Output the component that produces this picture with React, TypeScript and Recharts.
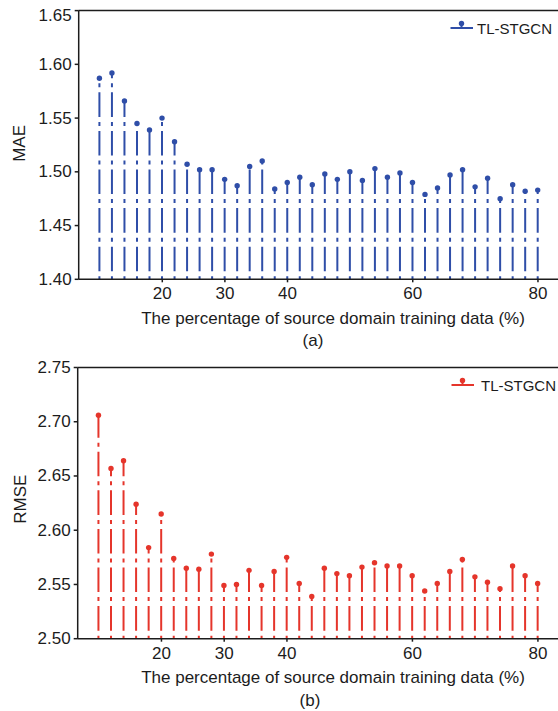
import React from "react";
import { ComposedChart, Bar, XAxis, YAxis, ReferenceLine } from "recharts";

const percents = [10, 12, 14, 16, 18, 20, 22, 24, 26, 28, 30, 32, 34, 36, 38, 40, 42, 44, 46, 48, 50, 52, 54, 56, 58, 60, 62, 64, 66, 68, 70, 72, 74, 76, 78, 80];

const mae = [1.587, 1.592, 1.566, 1.545, 1.539, 1.55, 1.528, 1.507, 1.502, 1.502, 1.493, 1.487, 1.505, 1.51, 1.484, 1.49, 1.495, 1.488, 1.498, 1.493, 1.5, 1.492, 1.503, 1.495, 1.499, 1.49, 1.479, 1.485, 1.497, 1.502, 1.486, 1.494, 1.475, 1.488, 1.482, 1.483];

const rmse = [2.706, 2.657, 2.664, 2.624, 2.584, 2.615, 2.574, 2.565, 2.564, 2.578, 2.549, 2.55, 2.563, 2.549, 2.562, 2.575, 2.551, 2.539, 2.565, 2.56, 2.558, 2.566, 2.57, 2.567, 2.567, 2.558, 2.544, 2.551, 2.562, 2.573, 2.557, 2.552, 2.546, 2.567, 2.558, 2.551];

const xTicks = [20, 30, 40, 60, 80];
const maeTicks = [1.4, 1.45, 1.5, 1.55, 1.6, 1.65];
const rmseTicks = [2.5, 2.55, 2.6, 2.65, 2.7, 2.75];

const seriesName = "TL-STGCN";
const xTitle = "The percentage of source domain training data (%)";

const FONT = "'Liberation Sans', Arial, sans-serif";
const INK = "#1c1c1c";
const BLUE = "#2f4ea8";
const RED = "#e5352b";

// stem from baseline up to the value, dash-dot pattern starts at the baseline
const makeStem = (color: string) => (props: any) => {
  const { x, y, width, height } = props;
  const cx = x + width / 2;
  const base = y + height;
  return (
    <g>
      <line x1={cx} y1={base} x2={cx} y2={y} stroke={color} strokeWidth={2}
        strokeDasharray="4 5 24.6 5" strokeDashoffset={1} />
      <circle cx={cx} cy={y} r={2.7} fill={color} />
    </g>
  );
};

// legend key: short stem on a baseline, then the series name
function StemLegend({ color, left, top, textX }: { color: string; left: number; top: number; textX: number }) {
  return (
    <svg width={110} height={26} style={{ position: "absolute", left, top, overflow: "visible" }}>
      <line x1={2.5} y1={14} x2={25} y2={14} stroke={color} strokeWidth={2} />
      <line x1={13.5} y1={14} x2={13.5} y2={9.5} stroke={color} strokeWidth={2} />
      <circle cx={13.5} cy={9.5} r={2.7} fill={color} />
      <text x={textX} y={14} dominantBaseline="central" fontFamily={FONT} fontSize={15} fill={INK}>
        {seriesName}
      </text>
    </svg>
  );
}

// y tick label; the top one in (a) sits a little lower than its tick
const makeYTick = (topValue: number, topShift: number) => (props: any) => {
  const { x, y, payload } = props;
  const v = payload.value as number;
  const dy = Math.abs(v - topValue) < 1e-9 ? topShift : 0;
  return (
    <text x={x} y={y + dy} textAnchor="end" dominantBaseline="central" fontFamily={FONT} fontSize={17} fill={INK}>
      {v.toFixed(2)}
    </text>
  );
};

const makeYLabel = (text: string, cx: number, dy: number) => (props: any) => {
  const vb = props.viewBox || {};
  const cy = (vb.y ?? 0) + (vb.height ?? 0) / 2 + dy;
  return (
    <text x={cx} y={cy} transform={`rotate(-90, ${cx}, ${cy})`} textAnchor="middle"
      dominantBaseline="central" fontFamily={FONT} fontSize={17} fill={INK}>
      {text}
    </text>
  );
};

const makeXLabel = (tag: string, tagX: number) => (props: any) => {
  const vb = props.viewBox || {};
  const top = vb.y ?? 0;
  return (
    <g fontFamily={FONT} fontSize={17} fill={INK}>
      <text x={333} y={top + 39} textAnchor="middle" dominantBaseline="central">{xTitle}</text>
      <text x={tagX} y={top + 61.5} textAnchor="middle" dominantBaseline="central">{tag}</text>
    </g>
  );
};

const maeData = percents.map((p, i) => ({ p, v: mae[i] }));
const rmseData = percents.map((p, i) => ({ p, v: rmse[i] }));

const tickStyle = { fontFamily: FONT, fontSize: 17, fill: INK };
const axisLine = { stroke: INK, strokeWidth: 1.5 };

export default function App() {
  return (
    <div style={{ position: "absolute", left: 0, top: 0, width: 558, height: 711, background: "#fff", overflow: "hidden" }}>
      <div style={{ position: "absolute", left: 0, top: 0 }}>
        <ComposedChart width={558} height={350} data={maeData} margin={{ top: 10.6, right: 0, left: 0, bottom: 0 }}>
          <XAxis dataKey="p" type="number" domain={[6.65, 83.2]} allowDataOverflow ticks={xTicks}
            height={70.7} tick={tickStyle} tickSize={3} tickMargin={5} axisLine={axisLine} tickLine={axisLine}
            label={makeXLabel("(a)", 313)} />
          <YAxis type="number" domain={[1.4, 1.65]} ticks={maeTicks} width={78.7}
            tick={makeYTick(1.65, 4.5)} tickSize={4} tickMargin={3}
            axisLine={axisLine} tickLine={axisLine} label={makeYLabel("MAE", 19.5, -1.5)} />
          <ReferenceLine y={1.65} stroke={INK} strokeWidth={1.5} />
          <Bar dataKey="v" name={seriesName} barSize={4} shape={makeStem(BLUE)} isAnimationActive={false} />
        </ComposedChart>
      </div>
      <StemLegend color={BLUE} left={448} top={14} textX={29} />
      <div style={{ position: "absolute", left: 0, top: 355 }}>
        <ComposedChart width={558} height={356} data={rmseData} margin={{ top: 12.5, right: 0, left: 0, bottom: 0 }}>
          <XAxis dataKey="p" type="number" domain={[6.65, 83.2]} allowDataOverflow ticks={xTicks}
            height={72.3} tick={tickStyle} tickSize={3} tickMargin={5} axisLine={axisLine} tickLine={axisLine}
            label={makeXLabel("(b)", 310)} />
          <YAxis type="number" domain={[2.5, 2.75]} ticks={rmseTicks} width={77.7}
            tick={makeYTick(2.75, 0)} tickSize={4} tickMargin={3}
            axisLine={axisLine} tickLine={axisLine} label={makeYLabel("RMSE", 21, -4)} />
          <ReferenceLine y={2.75} stroke={INK} strokeWidth={1.5} />
          <Bar dataKey="v" name={seriesName} barSize={4} shape={makeStem(RED)} isAnimationActive={false} />
        </ComposedChart>
      </div>
      <StemLegend color={RED} left={449} top={371} textX={32} />
    </div>
  );
}
